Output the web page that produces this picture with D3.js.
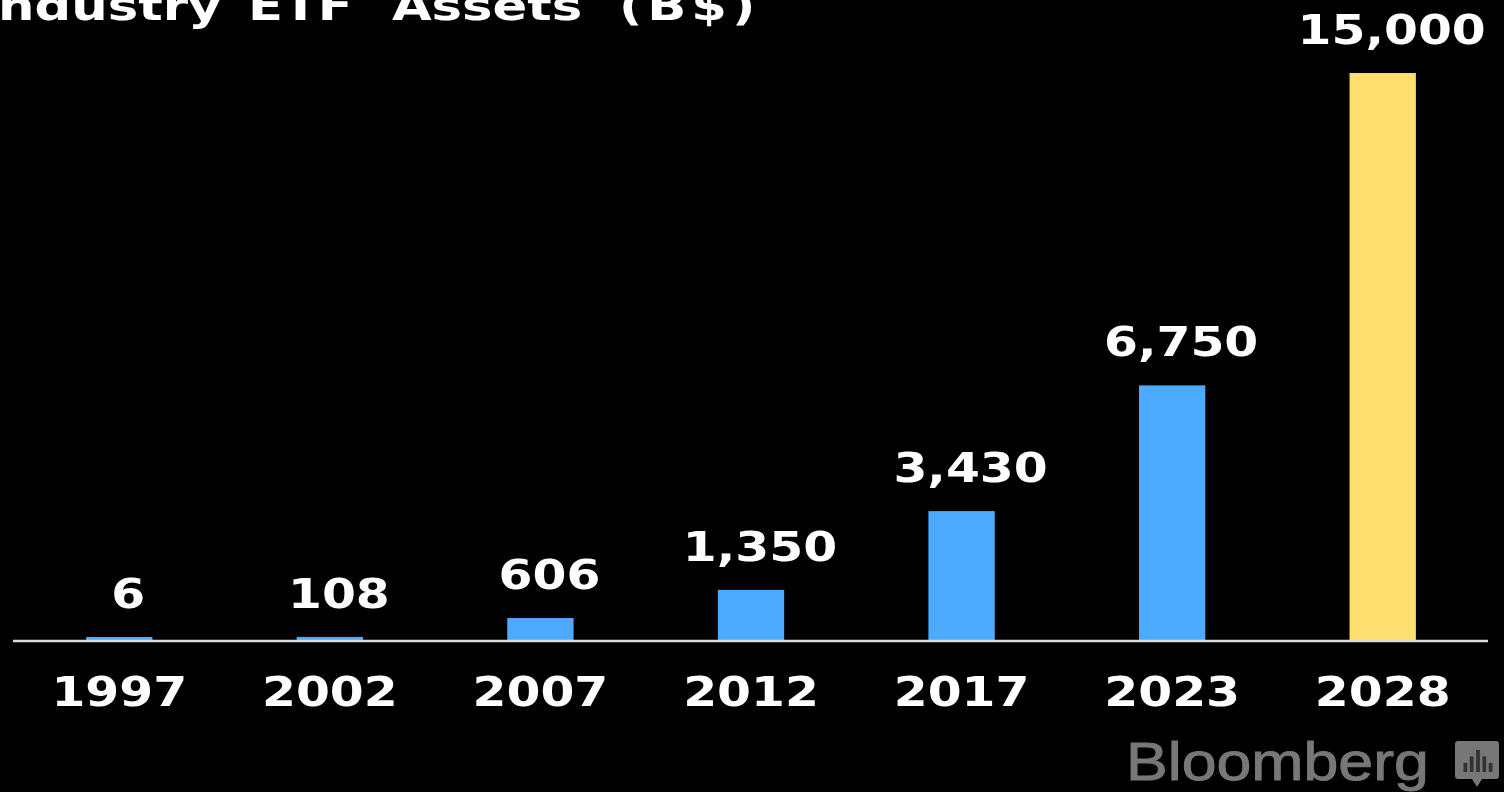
<!DOCTYPE html>
<html><head><meta charset="utf-8">
<script src="https://cdn.jsdelivr.net/npm/d3@7"></script>
<style>html,body{margin:0;padding:0;background:#000;overflow:hidden}svg{display:block}text{font-family:"DejaVu Sans";font-weight:700;fill:#fff}</style>
</head><body><svg id="c" width="1504" height="792"></svg>
<script>
const years=["1997","2002","2007","2012","2017","2023","2028"];
const assets=[6,108,606,1350,3430,6750,15000];
const valueLabels=["6","108","606","1,350","3,430","6,750","15,000"];
const barColors=["#4dabff","#4dabff","#4dabff","#4dabff","#4dabff","#4dabff","#ffde70"];
const titleWords=["Industry ","ETF ","Assets ","(B$)"];
const titleWordGaps=[0,0,10,8];
const titleWordTracking=[0,0,0,4];
const source="Bloomberg";
const iconBars=[0.35,0.6,0.85,0.6,0.35];

const svg=d3.select("#c");
const x=d3.scaleBand().domain(years).range([14,1488]).paddingInner(0.685).paddingOuter(0.3425);
const y=d3.scaleLinear().domain([0,15000]).range([641,73]);
const minBar=4;
const sx=1.19;
function wide(sel,px,py,size){return sel.attr("transform",`translate(${px},${py}) scale(${sx},1)`).attr("font-size",size).attr("text-anchor","middle");}

const g=svg.append("g").style("filter","blur(0.6px)");
g.selectAll("rect.bar").data(assets).join("rect").attr("class","bar")
 .attr("x",(d,i)=>x(years[i])).attr("width",x.bandwidth())
 .attr("y",d=>Math.min(y(d),641-minBar)).attr("height",d=>Math.max(641-y(d),minBar))
 .attr("fill",(d,i)=>barColors[i]);
g.append("line").attr("x1",13).attr("x2",1488).attr("y1",641).attr("y2",641).attr("stroke","#dcdcdc").attr("stroke-width",2.5);
years.forEach((t,i)=>{
 wide(g.append("text").text(t),x(t)+x.bandwidth()/2,706,41);
 wide(g.append("text").text(valueLabels[i]),x(t)+x.bandwidth()/2+9,Math.min(y(assets[i]),641-minBar)-29,41);
});
const title=g.append("text").attr("transform","translate(-21,20) scale(1.25,1)").attr("font-size",41).attr("word-spacing",7).attr("xml:space","preserve").style("white-space","pre");
title.selectAll("tspan").data(titleWords).join("tspan").text(d=>d).attr("dx",(d,i)=>titleWordGaps[i]).attr("letter-spacing",(d,i)=>titleWordTracking[i]);
g.append("text").text(source).attr("transform","translate(1126,780) scale(1.16,1)").attr("font-size",54)
 .style("font-family","'Liberation Sans'").style("font-weight",400).style("fill","#777").style("stroke","#777").style("stroke-width",1);
const ic=g.append("g").attr("transform","translate(1455,741)");
ic.append("path").attr("d","M3 0H41a3 3 0 0 1 3 3V35a3 3 0 0 1-3 3H27L22 46L17 38H3a3 3 0 0 1-3-3V3a3 3 0 0 1 3-3Z").attr("fill","#777");
const ix=d3.scaleBand().domain(d3.range(iconBars.length)).range([6,40]).padding(0.4);
ic.selectAll("rect").data(iconBars).join("rect").attr("x",(d,i)=>ix(i)).attr("width",ix.bandwidth()).attr("y",d=>31-d*26).attr("height",d=>d*26).attr("fill","#333");
</script></body></html>
